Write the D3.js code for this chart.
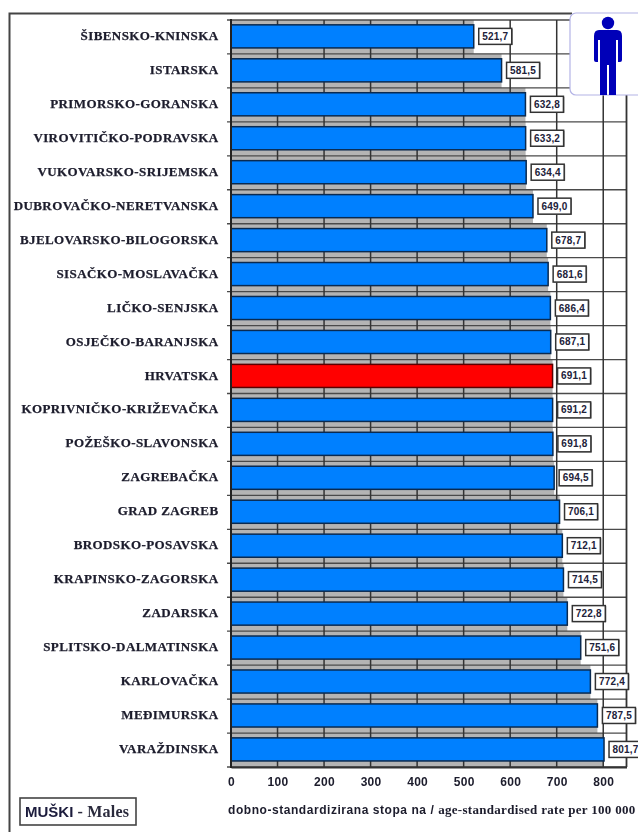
<!DOCTYPE html>
<html>
<head>
<meta charset="utf-8">
<script src="https://cdn.jsdelivr.net/npm/d3@7"></script>
<style>
html, body { margin: 0; padding: 0; background: #fff; overflow: hidden; }
svg { display: block; filter: blur(0.6px); }
.cat { font: bold 13px "Liberation Serif", serif; letter-spacing: 0.4px; fill: #1c1c2c; stroke: #1c1c2c; stroke-width: 0.25px; }
.val { font: bold 10px "Liberation Sans", sans-serif; letter-spacing: 0.2px; fill: #22223a; }
.tick text { font: bold 12px "Liberation Sans", sans-serif; letter-spacing: 0.3px; fill: #1c1c2c; }
</style>
</head>
<body>
<svg id="root" width="638" height="832"></svg>
<script>
const categories = [
    "ŠIBENSKO-KNINSKA", "ISTARSKA", "PRIMORSKO-GORANSKA", "VIROVITIČKO-PODRAVSKA",
    "VUKOVARSKO-SRIJEMSKA", "DUBROVAČKO-NERETVANSKA", "BJELOVARSKO-BILOGORSKA",
    "SISAČKO-MOSLAVAČKA", "LIČKO-SENJSKA", "OSJEČKO-BARANJSKA", "HRVATSKA",
    "KOPRIVNIČKO-KRIŽEVAČKA", "POŽEŠKO-SLAVONSKA", "ZAGREBAČKA", "GRAD ZAGREB",
    "BRODSKO-POSAVSKA", "KRAPINSKO-ZAGORSKA", "ZADARSKA", "SPLITSKO-DALMATINSKA",
    "KARLOVAČKA", "MEĐIMURSKA", "VARAŽDINSKA"
];
const values = [
    521.7, 581.5, 632.8, 633.2, 634.4, 649.0, 678.7, 681.6, 686.4, 687.1, 691.1,
    691.2, 691.8, 694.5, 706.1, 712.1, 714.5, 722.8, 751.6, 772.4, 787.5, 801.7
];
const xTicks = [0, 100, 200, 300, 400, 500, 600, 700, 800];
const gridTicks = [100, 200, 300, 400, 500, 600, 700, 800, 850];
const highlight = "HRVATSKA";

const svg = d3.select('#root');

const x = d3.scaleLinear().domain([0, 850]).range([231, 626.5]);
const yBand = d3.scaleBand().domain(categories).range([20, 767]);
const yBar = d3.scaleBand().domain(categories).range([19.4, 766.4]).paddingInner(0.32).paddingOuter(0.16);

// outer frame, only top and left show in the picture
svg.append('path')
    .attr('d', 'M9.5,832V13.5H572')
    .attr('fill', 'none')
    .attr('stroke', '#444')
    .attr('stroke-width', 2);

// grey shadow behind each bar
svg.append('g').selectAll('rect')
    .data(categories)
    .enter().append('rect')
    .attr('x', x(0))
    .attr('y', d => yBand(d))
    .attr('width', (d, i) => x(values[i]) - x(0))
    .attr('height', yBand.step())
    .attr('fill', '#b4b4b4');

// horizontal grid at the band edges
svg.append('g').selectAll('line')
    .data(categories.concat(['end']))
    .enter().append('line')
    .attr('x1', x(0) - 4)
    .attr('x2', x(850))
    .attr('y1', (d, i) => 20 + i * yBand.step())
    .attr('y2', (d, i) => 20 + i * yBand.step())
    .attr('stroke', '#4a4a4a')
    .attr('stroke-width', 1.3);

// vertical grid
svg.append('g').selectAll('line')
    .data(gridTicks)
    .enter().append('line')
    .attr('x1', d => x(d))
    .attr('x2', d => x(d))
    .attr('y1', 20)
    .attr('y2', 767)
    .attr('stroke', '#333')
    .attr('stroke-width', d => d === 850 ? 1.8 : 1.5);

// bars
svg.append('g').selectAll('rect')
    .data(categories)
    .enter().append('rect')
    .attr('x', x(0))
    .attr('y', d => yBar(d))
    .attr('width', (d, i) => x(values[i]) - x(0))
    .attr('height', yBar.bandwidth())
    .attr('fill', d => d === highlight ? '#ff0000' : '#0080ff')
    .attr('stroke', d => d === highlight ? '#5a0000' : '#0a2a50')
    .attr('stroke-width', 1.5);

// value boxes
const box = svg.append('g').selectAll('g')
    .data(categories)
    .enter().append('g')
    .attr('transform', (d, i) => `translate(${x(values[i]) + 5}, ${yBar(d) + yBar.bandwidth() / 2})`);

box.append('rect')
    .attr('x', 1).attr('y', -7.5)
    .attr('width', 33).attr('height', 16)
    .attr('fill', '#888');
box.append('rect')
    .attr('x', 0).attr('y', -8)
    .attr('width', 33).attr('height', 16)
    .attr('fill', '#fff')
    .attr('stroke', '#333')
    .attr('stroke-width', 1.5);
box.append('text')
    .attr('class', 'val')
    .attr('x', 16.5)
    .attr('y', 3.5)
    .attr('text-anchor', 'middle')
    .text((d, i) => values[i].toFixed(1).replace('.', ','));

// category labels
svg.append('g').selectAll('text')
    .data(categories)
    .enter().append('text')
    .attr('class', 'cat')
    .attr('x', 218.5)
    .attr('y', d => yBand(d) + yBand.step() / 2 + 3)
    .attr('text-anchor', 'end')
    .text(d => d);

// axes
const axisX = d3.axisBottom(x).tickValues(xTicks).tickSize(0).tickPadding(10);
const gx = svg.append('g')
    .attr('transform', 'translate(0, 767)')
    .call(axisX);
gx.select('.domain').attr('stroke', '#333').attr('stroke-width', 2);

svg.append('line')
    .attr('x1', x(0)).attr('x2', x(0))
    .attr('y1', 19).attr('y2', 768)
    .attr('stroke', '#222')
    .attr('stroke-width', 2);

// axis caption
const caption = svg.append('text')
    .attr('x', 228)
    .attr('y', 814);
caption.append('tspan')
    .attr('font-family', '"Liberation Sans", sans-serif')
    .attr('font-weight', 'bold')
    .attr('font-size', 12)
    .attr('letter-spacing', 0.55)
    .attr('fill', '#1c1c2c')
    .text('dobno-standardizirana stopa na / ');
caption.append('tspan')
    .attr('font-family', '"Liberation Serif", serif')
    .attr('font-weight', 'bold')
    .attr('font-size', 13)
    .attr('letter-spacing', 0.3)
    .attr('fill', '#1c1c2c')
    .text('age-standardised rate per 100 000');

// males box
svg.append('rect')
    .attr('x', 20).attr('y', 798)
    .attr('width', 116).attr('height', 27)
    .attr('fill', '#fff')
    .attr('stroke', '#444')
    .attr('stroke-width', 1.6);
const malesLabel = svg.append('text')
    .attr('x', 25)
    .attr('y', 817);
malesLabel.append('tspan')
    .attr('font-family', '"Liberation Sans", sans-serif')
    .attr('font-weight', 'bold')
    .attr('font-size', 15)
    .attr('fill', '#1c1c3c')
    .text('MUŠKI');
malesLabel.append('tspan')
    .attr('font-family', '"Liberation Serif", serif')
    .attr('font-weight', 'bold')
    .attr('font-size', 16)
    .attr('letter-spacing', 0.2)
    .attr('fill', '#2a2a3c')
    .text(' - Males');

// person icon over the top right corner
const icon = svg.append('g').attr('transform', 'translate(570, 13)');
icon.append('rect')
    .attr('x', 0).attr('y', 0)
    .attr('width', 90).attr('height', 82)
    .attr('rx', 6)
    .attr('fill', '#fff')
    .attr('stroke', '#b4b4e6')
    .attr('stroke-width', 1.2);
icon.append('circle')
    .attr('cx', 38).attr('cy', 10).attr('r', 6.2)
    .attr('fill', '#0000b8');
icon.append('path')
    .attr('d', 'M29,17H47Q52,17 52,23V47Q52,49 50,49H48V27H46V82H39V52H37V82H30V27H28V49H26Q24,49 24,47V23Q24,17 29,17Z')
    .attr('fill', '#0000b8');
</script>
</body>
</html>
